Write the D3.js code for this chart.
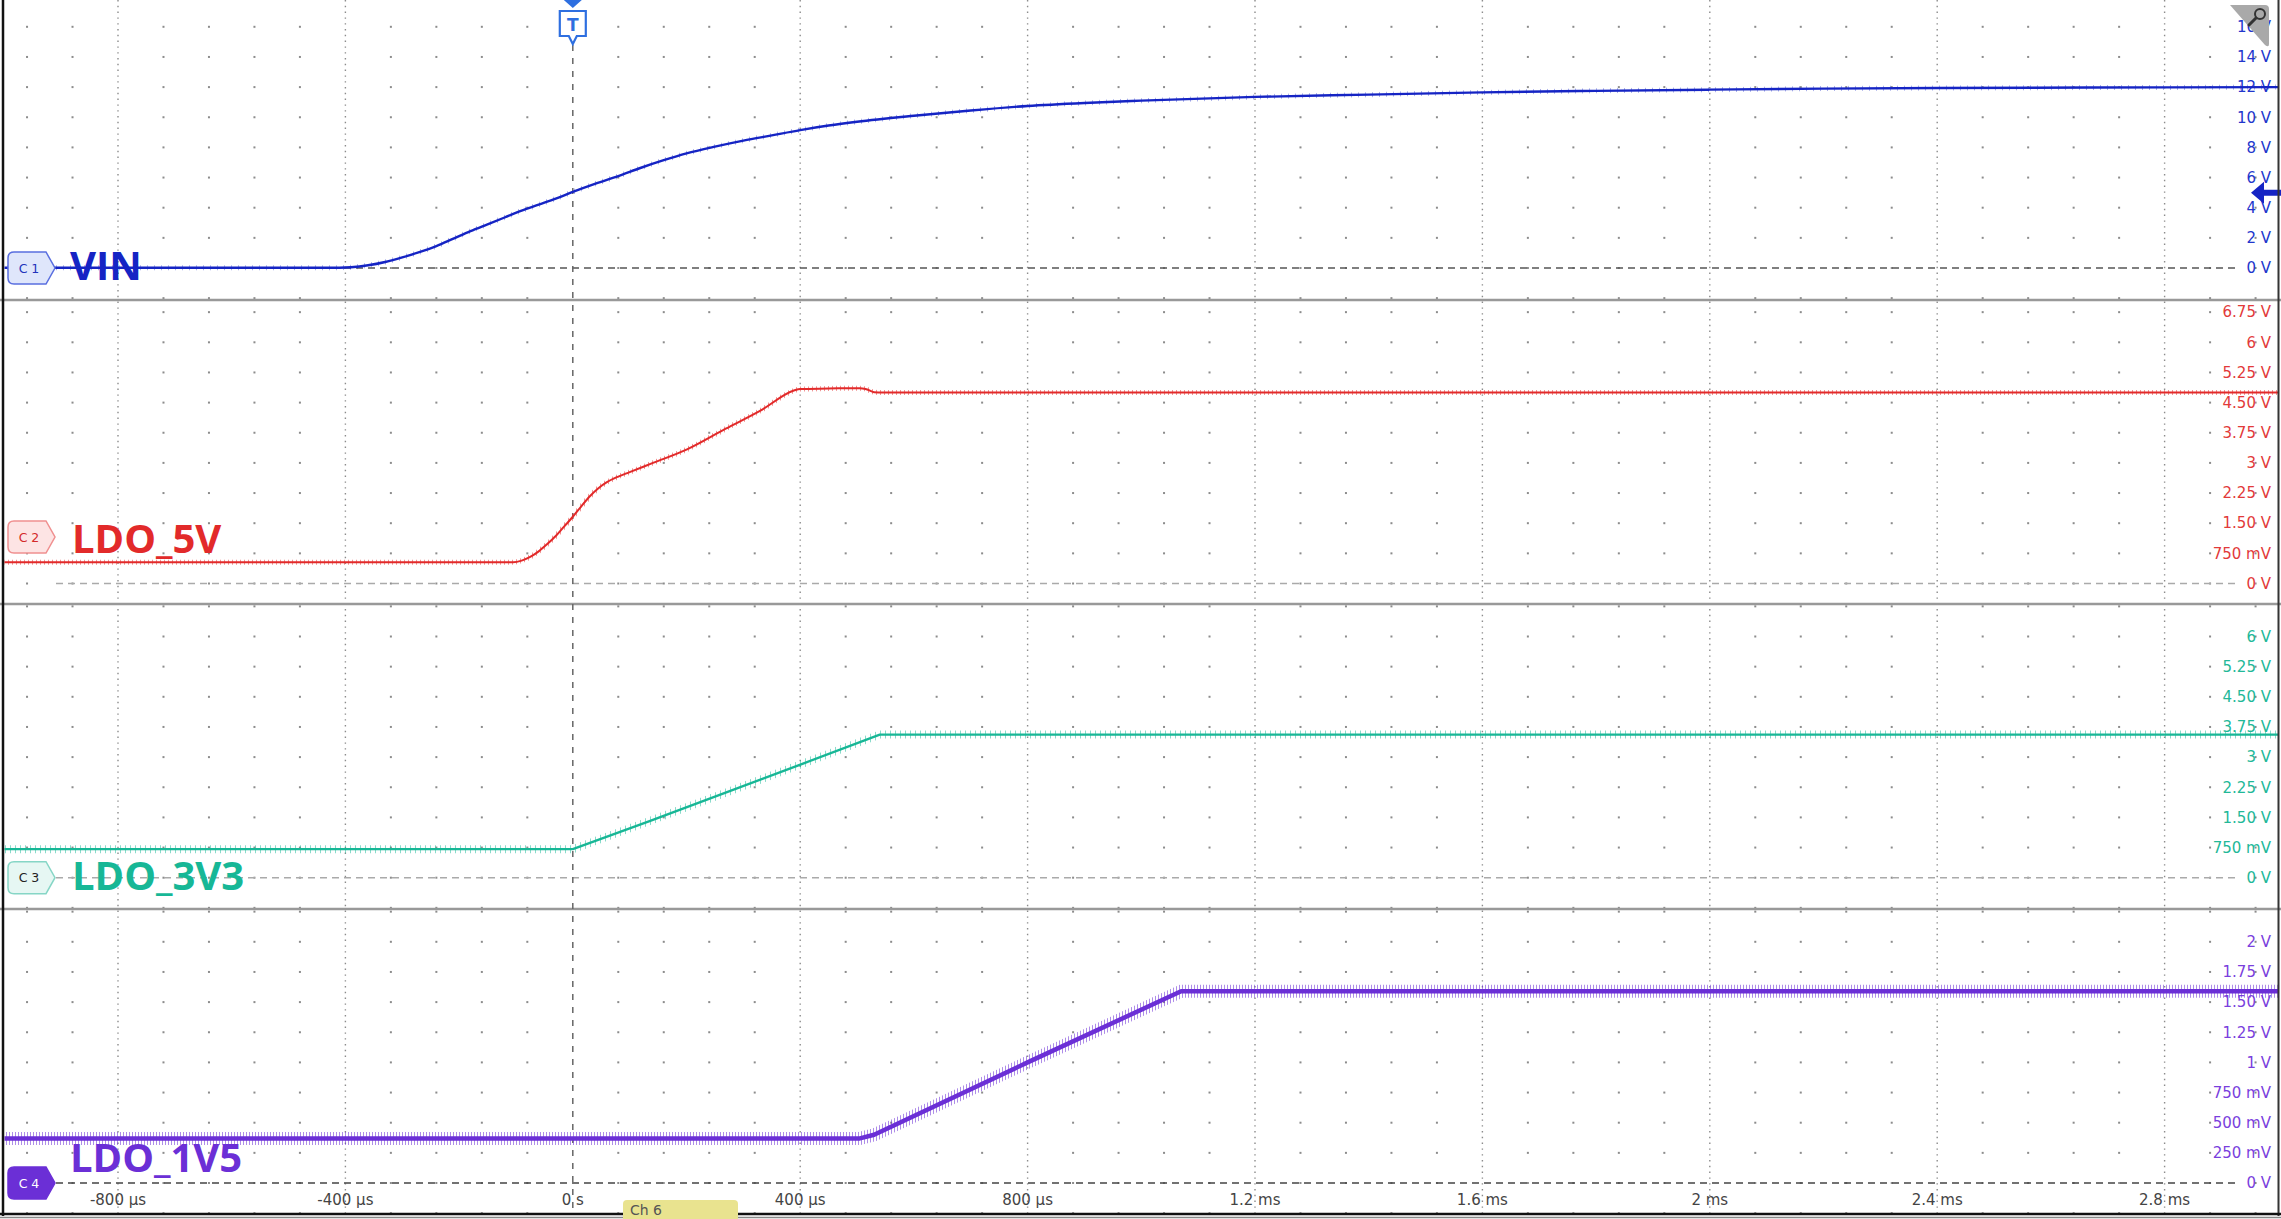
<!DOCTYPE html>
<html><head><meta charset="utf-8">
<script src="https://cdn.jsdelivr.net/npm/d3@7"></script>
<style>html,body{margin:0;padding:0;background:#fff;overflow:hidden}</style>
</head><body>
<svg id="c" width="2281" height="1219"></svg>
<script>
// ---------- DATA ----------
const timeTicks = [-800, -400, 0, 400, 800, 1200, 1600, 2000, 2400, 2800];           // µs
const timeTickLabels = ["-800 µs", "-400 µs", "0 s", "400 µs", "800 µs", "1.2 ms", "1.6 ms", "2 ms", "2.4 ms", "2.8 ms"];

const channelNames = ["VIN", "LDO_5V", "LDO_3V3", "LDO_1V5"];
const channelBadges = ["C 1", "C 2", "C 3", "C 4"];
const voltsPerDiv = [2, 0.75, 0.75, 0.25];

const vinTicks = [0, 2, 4, 6, 8, 10, 12, 14, 16];
const vinTickLabels = ["0 V", "2 V", "4 V", "6 V", "8 V", "10 V", "12 V", "14 V", "16 V"];
const ldo5Ticks = [0, 0.75, 1.5, 2.25, 3, 3.75, 4.5, 5.25, 6, 6.75];
const ldo5TickLabels = ["0 V", "750 mV", "1.50 V", "2.25 V", "3 V", "3.75 V", "4.50 V", "5.25 V", "6 V", "6.75 V"];
const ldo33Ticks = [0, 0.75, 1.5, 2.25, 3, 3.75, 4.5, 5.25, 6];
const ldo33TickLabels = ["0 V", "750 mV", "1.50 V", "2.25 V", "3 V", "3.75 V", "4.50 V", "5.25 V", "6 V"];
const ldo15Ticks = [0, 0.25, 0.5, 0.75, 1, 1.25, 1.5, 1.75, 2];
const ldo15TickLabels = ["0 V", "250 mV", "500 mV", "750 mV", "1 V", "1.25 V", "1.50 V", "1.75 V", "2 V"];

// traces: time (µs) and volts
const vinTime = [-1000, -410, -390, -360, -330, -300, -270, -240, -210, -180, -150, -120, -90, -60, -30, 0, 40, 80, 120, 160, 200, 250, 300, 350, 400, 450, 500, 600, 700, 800, 900, 1000, 1200, 1400, 1600, 1800, 2000, 2200, 2400, 2800, 3000];
const vinVolts = [0.02, 0.02, 0.05, 0.18, 0.4, 0.7, 1.05, 1.45, 1.95, 2.45, 2.9, 3.35, 3.8, 4.2, 4.6, 5.05, 5.6, 6.1, 6.65, 7.15, 7.6, 8.05, 8.45, 8.8, 9.15, 9.45, 9.7, 10.1, 10.45, 10.75, 10.95, 11.1, 11.35, 11.5, 11.65, 11.75, 11.83, 11.9, 11.94, 11.98, 12.0];

const ldo5Time = [-1000, -105, -90, -75, -60, -45, -30, -15, 0, 15, 30, 45, 60, 80, 100, 141, 200, 269, 330, 389, 400, 450, 505, 515, 530, 545, 3000];
const ldo5Volts = [0.53, 0.53, 0.57, 0.66, 0.8, 0.98, 1.18, 1.42, 1.66, 1.92, 2.17, 2.37, 2.52, 2.66, 2.77, 3.0, 3.33, 3.85, 4.3, 4.8, 4.84, 4.85, 4.86, 4.84, 4.76, 4.75, 4.75];

const ldo33Time = [-1000, 0, 135, 270, 405, 540, 3000];
const ldo33Volts = [0.71, 0.71, 1.41, 2.12, 2.84, 3.56, 3.56];

const ldo15Time = [-1000, 505, 530, 800, 1070, 3000];
const ldo15Volts = [0.37, 0.37, 0.4, 1.0, 1.59, 1.59];

const triggerLevel = 5; // V on VIN

// ---------- STYLE / LAYOUT ----------
const colors = ["#1524c4", "#e22a2a", "#17b796", "#6b2fd6"];
const labelColors = ["#2236cc", "#e23a3a", "#22b898", "#7a3fdd"];
const badgeFill = ["#dfe6fb", "#fde4e4", "#e6f7f3", "#6b2fd6"];
const badgeStroke = ["#5a6fe0", "#f09090", "#86d6c6", "#6b2fd6"];
const badgeText = ["#2233bb", "#d42a2a", "#222222", "#ffffff"];
const zeroLineColor = ["#555", "#aaa", "#aaa", "#444"];
const panes = [
  {top: 0, bottom: 300, zero: 268},
  {top: 300, bottom: 604, zero: 583.5},
  {top: 604, bottom: 909, zero: 877.7},
  {top: 909, bottom: 1213, zero: 1183}
];
const nameLayout = [{x: 70, y: 280}, {x: 72, y: 553}, {x: 72, y: 890}, {x: 70, y: 1172}];
const badgeY = [268, 537, 877.7, 1183];
const DIV = 30.15;

const svg = d3.select("#c");
svg.append("rect").attr("width", 2281).attr("height", 1219).attr("fill", "#fff");
const x = d3.scaleLinear().domain([-1000, 3000]).range([4.3, 2278.3]);
const yScales = panes.map((p, i) => d3.scaleLinear().domain([0, voltsPerDiv[i]]).range([p.zero, p.zero - DIV]));

const defs = svg.append("defs");
panes.forEach((p, i) => {
  defs.append("clipPath").attr("id", "clip" + i).append("rect")
    .attr("x", x(-1000)).attr("y", p.top + 1).attr("width", x(3000) - x(-1000)).attr("height", p.bottom - p.top - 2);
});
const fuzzPeriod = [7, 4, 5, 3];
panes.forEach((p, i) => {
  const pat = defs.append("pattern").attr("id", "fz" + i).attr("patternUnits", "userSpaceOnUse")
    .attr("width", fuzzPeriod[i]).attr("height", 40);
  pat.append("rect").attr("width", 1).attr("height", 40).attr("fill", colors[i]);
});

// ---------- GRID ----------
const grid = svg.append("g");
const minorTimes = d3.range(-960, 3000, 80).filter(t => Math.abs(t % 400) > 1e-6);
panes.forEach((p, i) => {
  const ys = d3.range(-1, 10).map(k => yScales[i](k * voltsPerDiv[i])).filter(y => y >= p.top - 1 && y <= p.bottom + 1);
  ys.forEach(y => {
    grid.selectAll(null).data(minorTimes).enter().append("rect")
      .attr("x", d => x(d) - 1).attr("y", y - 1).attr("width", 2).attr("height", 2).attr("fill", "#8c8c8c");
  });
});
grid.selectAll(null).data(timeTicks.filter(t => t !== 0)).enter().append("line")
  .attr("x1", d => x(d)).attr("x2", d => x(d)).attr("y1", 0).attr("y2", 1213)
  .attr("stroke", "#8c8c8c").attr("stroke-width", 1.4).attr("stroke-dasharray", "1.4,4.4");

// zero lines
panes.forEach((p, i) => {
  grid.append("line").attr("x1", 56).attr("x2", 2240).attr("y1", p.zero).attr("y2", p.zero)
    .attr("stroke", zeroLineColor[i]).attr("stroke-width", 1.5).attr("stroke-dasharray", "7,5");
});
// separators
panes.slice(1).forEach(p => {
  grid.append("line").attr("x1", 0).attr("x2", 2281).attr("y1", p.top).attr("y2", p.top)
    .attr("stroke", "#999").attr("stroke-width", 2.5);
});
// trigger position line
grid.append("line").attr("x1", x(0)).attr("x2", x(0)).attr("y1", 45).attr("y2", 1213)
  .attr("stroke", "#666").attr("stroke-width", 1.5).attr("stroke-dasharray", "6,7");

// ---------- Y LABELS ----------
const tickSets = [[vinTicks, vinTickLabels], [ldo5Ticks, ldo5TickLabels], [ldo33Ticks, ldo33TickLabels], [ldo15Ticks, ldo15TickLabels]];
tickSets.forEach(([vals, labs], i) => {
  svg.append("g").selectAll("text").data(vals).enter().append("text")
    .attr("x", 2271).attr("y", d => yScales[i](d)).attr("dy", "0.35em")
    .attr("text-anchor", "end").attr("font-family", "DejaVu Sans").attr("font-size", 15)
    .attr("fill", labelColors[i]).text((d, j) => labs[j]);
});

// ---------- TRACES ----------
const traces = [[vinTime, vinVolts], [ldo5Time, ldo5Volts], [ldo33Time, ldo33Volts], [ldo15Time, ldo15Volts]];
const curves = [d3.curveMonotoneX, d3.curveMonotoneX, d3.curveLinear, d3.curveLinear];
const coreW = [2.4, 2.0, 2.4, 4.5];
const fuzzW = [5, 5, 8, 13];
const fuzzOp = [0.35, 0.5, 0.5, 0.55];
traces.forEach(([ts, vs], i) => {
  const pts = ts.map((t, j) => [t, vs[j]]);
  const line = d3.line().x(d => x(d[0])).y(d => yScales[i](d[1])).curve(curves[i]);
  const g = svg.append("g").attr("clip-path", `url(#clip${i})`);
  g.append("path").attr("d", line(pts)).attr("fill", "none")
    .attr("stroke", `url(#fz${i})`).attr("stroke-width", fuzzW[i]).attr("opacity", fuzzOp[i]);
  g.append("path").attr("d", line(pts)).attr("fill", "none")
    .attr("stroke", colors[i]).attr("stroke-width", coreW[i]).attr("stroke-linejoin", "round");
});

// ---------- BADGES & NAMES ----------
channelNames.forEach((n, i) => {
  const cy = badgeY[i], x0 = 8, x1 = 46, x2 = 55, h = 16, r = 6;
  const path = `M${x0 + r},${cy - h} L${x1},${cy - h} L${x2},${cy} L${x1},${cy + h} L${x0 + r},${cy + h} Q${x0},${cy + h} ${x0},${cy + h - r} L${x0},${cy - h + r} Q${x0},${cy - h} ${x0 + r},${cy - h} Z`;
  svg.append("path").attr("d", path).attr("fill", badgeFill[i]).attr("stroke", badgeStroke[i]).attr("stroke-width", 1.5);
  svg.append("text").attr("x", 29).attr("y", cy).attr("dy", "0.36em").attr("text-anchor", "middle")
    .attr("font-family", "DejaVu Sans").attr("font-size", 12.5).attr("fill", badgeText[i]).text(channelBadges[i]);
  svg.append("text").attr("x", nameLayout[i].x).attr("y", nameLayout[i].y)
    .attr("font-family", "Open Sans").attr("font-weight", 700).attr("font-size", 40)
    .attr("fill", colors[i]).text(n);
});

// ---------- TIME LABELS ----------
svg.append("g").selectAll("text").data(timeTicks).enter().append("text")
  .attr("x", d => x(d)).attr("y", 1205).attr("text-anchor", "middle")
  .attr("font-family", "DejaVu Sans").attr("font-size", 15).attr("fill", "#444")
  .text((d, i) => timeTickLabels[i]);

// ---------- DECORATIONS ----------
const tx = x(0), tc = "#2e6fe0";
svg.append("path").attr("d", `M${tx - 9},0 L${tx + 9},0 L${tx},8 Z`).attr("fill", tc);
svg.append("path").attr("d", `M${tx - 13},11 L${tx + 13},11 L${tx + 13},36 L${tx + 4},36 L${tx},44 L${tx - 4},36 L${tx - 13},36 Z`)
  .attr("fill", "#fff").attr("stroke", tc).attr("stroke-width", 2.2);
svg.append("text").attr("x", tx).attr("y", 31).attr("text-anchor", "middle").attr("font-family", "DejaVu Sans")
  .attr("font-weight", 700).attr("font-size", 17).attr("fill", tc).text("T");

// trigger level arrow
const ty = yScales[0](triggerLevel);
svg.append("path").attr("d", `M2251,${ty} L2264,${ty - 11} L2264,${ty - 3} L2281,${ty - 3} L2281,${ty + 3} L2264,${ty + 3} L2264,${ty + 11} Z`)
  .attr("fill", colors[0]);

// magnifier corner
svg.append("path").attr("d", "M2230,5 L2265,5 Q2269,5 2269,9 L2269,44 Q2269,48 2265,45 Z").attr("fill", "#a9a9a9");
svg.append("circle").attr("cx", 2260).attr("cy", 14).attr("r", 5).attr("fill", "none").attr("stroke", "#333").attr("stroke-width", 2);
svg.append("line").attr("x1", 2256).attr("y1", 18).attr("x2", 2249).attr("y2", 25).attr("stroke", "#333").attr("stroke-width", 3).attr("stroke-linecap", "round");

// borders
svg.append("line").attr("x1", 3).attr("x2", 3).attr("y1", 0).attr("y2", 1216).attr("stroke", "#111").attr("stroke-width", 2.5);
svg.append("line").attr("x1", 2278.5).attr("x2", 2278.5).attr("y1", 0).attr("y2", 1216).attr("stroke", "#333").attr("stroke-width", 2);
svg.append("line").attr("x1", 0).attr("x2", 2281).attr("y1", 1214).attr("y2", 1214).attr("stroke", "#111").attr("stroke-width", 2.5);
svg.append("line").attr("x1", 0).attr("x2", 2281).attr("y1", 1217.5).attr("y2", 1217.5).attr("stroke", "#888").attr("stroke-width", 1.5);

// Ch 6 tab
svg.append("rect").attr("x", 623).attr("y", 1200).attr("width", 115).attr("height", 26).attr("rx", 4).attr("fill", "#e9e38f");
svg.append("text").attr("x", 630).attr("y", 1215).attr("font-family", "DejaVu Sans").attr("font-size", 14).attr("fill", "#555").text("Ch 6");
</script>
</body></html>
